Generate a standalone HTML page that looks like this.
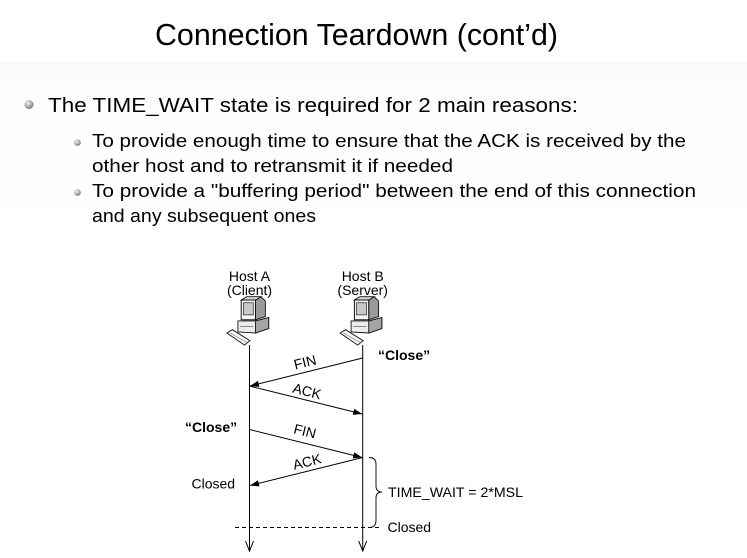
<!DOCTYPE html>
<html>
<head>
<meta charset="utf-8">
<style>
  html, body { margin:0; padding:0; background:#fff; }
  body { width:747px; height:558px; overflow:hidden; }
  svg { display:block; }
  .t { font-family:"Liberation Sans", "DejaVu Sans", sans-serif; fill:#000; }
  .d { font-family:"Liberation Sans", Arial, sans-serif; fill:#000; font-size:14px; }
</style>
</head>
<body>
<svg width="747" height="558" viewBox="0 0 747 558" xmlns="http://www.w3.org/2000/svg">
  <defs>
    <radialGradient id="bul" cx="0.38" cy="0.35" r="0.7">
      <stop offset="0" stop-color="#f2f2f2"/>
      <stop offset="0.6" stop-color="#a8a8a8"/>
      <stop offset="1" stop-color="#6e6e6e"/>
    </radialGradient>
    <linearGradient id="band" x1="0" y1="0" x2="0" y2="1">
      <stop offset="0" stop-color="#fafafa"/>
      <stop offset="0.3" stop-color="#fdfdfd"/>
      <stop offset="1" stop-color="#ffffff"/>
    </linearGradient>
    <g id="pc">
      <!-- monitor side/back -->
      <polygon points="5,0 10,-3 14,1 14,15 5,18" fill="#9a9a9a" stroke="#111" stroke-width="0.8"/>
      <polygon points="-8,0 -3,-3 10,-3 5,0" fill="#d8d8d8" stroke="#111" stroke-width="0.8"/>
      <!-- monitor front -->
      <rect x="-8" y="0" width="13" height="18" fill="#f4f4f4" stroke="#111" stroke-width="0.9"/>
      <rect x="-6" y="2.5" width="9" height="11" fill="#c9c9c9" stroke="#333" stroke-width="0.7"/>
      <!-- base -->
      <polygon points="-11,19 5,19 17,16 17,26 5,30 -11,29" fill="#ececec" stroke="#111" stroke-width="0.8"/>
      <polygon points="5,19 17,16 17,26 5,30" fill="#a5a5a5" stroke="#111" stroke-width="0.8"/>
      <line x1="-9" y1="24" x2="3" y2="24" stroke="#555" stroke-width="0.6"/>
      <!-- keyboard -->
      <polygon points="-21,30 -16,27 0,37 -5,41" fill="#f6f6f6" stroke="#111" stroke-width="0.8"/>
      <line x1="-18" y1="30" x2="-3" y2="38.5" stroke="#777" stroke-width="0.6"/>
    </g>
    <marker id="ah" viewBox="0 0 10 10" refX="10" refY="5" markerWidth="9" markerHeight="9" markerUnits="userSpaceOnUse" orient="auto">
      <path d="M0,1.5 L10,5 L0,8.5 Z" fill="#000"/>
    </marker>
  </defs>

  <rect x="0" y="62" width="747" height="170" fill="url(#band)"/>

  <!-- Title -->
  <text class="t" x="155" y="45" font-size="31" textLength="403" lengthAdjust="spacingAndGlyphs">Connection Teardown (cont’d)</text>

  <!-- Bullets -->
  <circle cx="29" cy="104.5" r="4.5" fill="url(#bul)"/>
  <text class="t" x="48" y="112" font-size="20.5" textLength="530" lengthAdjust="spacingAndGlyphs">The TIME_WAIT state is required for 2 main reasons:</text>

  <circle cx="77.5" cy="142.5" r="3.3" fill="url(#bul)"/>
  <text class="t" x="92" y="147" font-size="18.5" textLength="594" lengthAdjust="spacingAndGlyphs">To provide enough time to ensure that the ACK is received by the</text>
  <text class="t" x="92" y="172" font-size="18.5" textLength="361" lengthAdjust="spacingAndGlyphs">other host and to retransmit it if needed</text>

  <circle cx="77.5" cy="192.5" r="3.3" fill="url(#bul)"/>
  <text class="t" x="92" y="197" font-size="18.5" textLength="604" lengthAdjust="spacingAndGlyphs">To provide a "buffering period" between the end of this connection</text>
  <text class="t" x="92" y="222" font-size="18.5" textLength="224" lengthAdjust="spacingAndGlyphs">and any subsequent ones</text>

  <!-- Diagram: host labels -->
  <text class="d" x="249.5" y="281" text-anchor="middle">Host A</text>
  <text class="d" x="249.5" y="295" text-anchor="middle">(Client)</text>
  <text class="d" x="362.7" y="281" text-anchor="middle">Host B</text>
  <text class="d" x="362.7" y="295" text-anchor="middle">(Server)</text>

  <g transform="translate(250,300) scale(1.1)"><use href="#pc"/></g>
  <g transform="translate(363.2,300) scale(1.1)"><use href="#pc"/></g>

  <!-- vertical timelines -->
  <line x1="249.5" y1="345" x2="249.5" y2="551" stroke="#000" stroke-width="1"/>
  <line x1="362.7" y1="345" x2="362.7" y2="551" stroke="#000" stroke-width="1"/>
  <path d="M245.5,541 L249.5,551 L253.5,541" fill="none" stroke="#000" stroke-width="1"/>
  <path d="M358.7,541 L362.7,551 L366.7,541" fill="none" stroke="#000" stroke-width="1"/>

  <!-- messages -->
  <line x1="362.7" y1="358" x2="250" y2="386" stroke="#000" stroke-width="1" marker-end="url(#ah)"/>
  <line x1="249.5" y1="386" x2="362.2" y2="414" stroke="#000" stroke-width="1" marker-end="url(#ah)"/>
  <line x1="249.5" y1="429.5" x2="362.2" y2="457.5" stroke="#000" stroke-width="1" marker-end="url(#ah)"/>
  <line x1="362.7" y1="457.5" x2="250" y2="485.5" stroke="#000" stroke-width="1" marker-end="url(#ah)"/>

  <!-- message labels -->
  <g transform="translate(305,362) rotate(-14)"><text class="d" x="0" y="5" text-anchor="middle">FIN</text></g>
  <g transform="translate(307,391) rotate(14)"><text class="d" x="0" y="5" text-anchor="middle">ACK</text></g>
  <g transform="translate(305,431) rotate(14)"><text class="d" x="0" y="5" text-anchor="middle">FIN</text></g>
  <g transform="translate(307,461.5) rotate(-14)"><text class="d" x="0" y="5" text-anchor="middle">ACK</text></g>

  <!-- side labels -->
  <text class="d" x="378" y="360" font-weight="bold">“Close”</text>
  <text class="d" x="185" y="432" font-weight="bold">“Close”</text>
  <text class="d" x="191.5" y="488.5">Closed</text>

  <!-- brace -->
  <path d="M369,457.5 Q376,457.5 376,464 L376,486 Q376,492 382,492 Q376,492 376,498 L376,520.5 Q376,527.5 369,527.5" fill="none" stroke="#000" stroke-width="0.9"/>
  <text class="d" x="388" y="497" textLength="135" lengthAdjust="spacingAndGlyphs">TIME_WAIT = 2*MSL</text>

  <!-- dashed line -->
  <line x1="235" y1="527.5" x2="382" y2="527.5" stroke="#000" stroke-width="1" stroke-dasharray="4,3"/>
  <text class="d" x="387.5" y="532">Closed</text>
</svg>
</body>
</html>
